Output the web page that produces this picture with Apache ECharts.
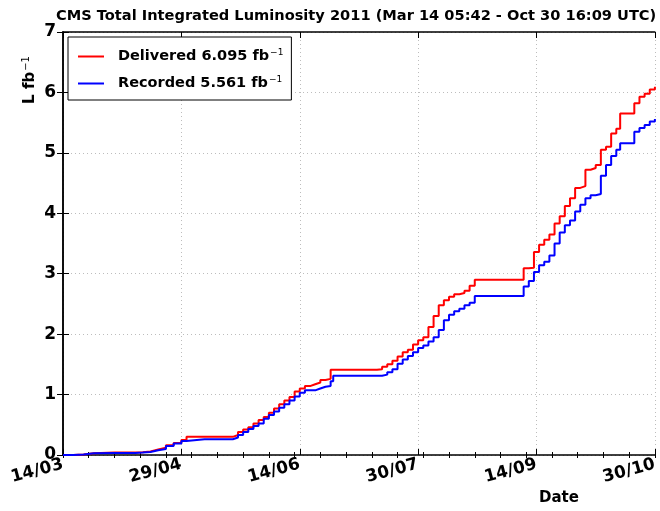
<!DOCTYPE html>
<html>
<head>
<meta charset="utf-8">
<title>CMS Total Integrated Luminosity 2011</title>
<script src="https://cdn.jsdelivr.net/npm/echarts@6/dist/echarts.min.js"></script>
<style>
  html, body { margin: 0; padding: 0; background: #fff; }
  #chart { width: 660px; height: 511px; }
</style>
</head>
<body>
<div id="chart"></div>
<script>
// days since 14/03/2011
const dayOffsets = [0, 4, 8, 12, 20, 28, 31, 34, 37, 40, 43, 46, 48, 55, 64, 66, 68, 70, 72, 74, 76, 78, 80, 82, 84, 86, 88, 90, 92, 94, 96, 98, 100, 102, 104, 105, 114, 122, 124, 126, 128, 130, 132, 134, 136, 138, 140, 142, 144, 146, 148, 150, 152, 154, 156, 158, 160, 170, 177, 179, 181, 183, 185, 187, 189, 191, 193, 195, 197, 199, 201, 203, 205, 207, 209, 211, 213, 215, 216.5, 221, 222, 224, 226, 228, 230]
// integrated luminosity, fb^-1
const deliveredFb = [0, 0.01, 0.03, 0.04, 0.04, 0.045, 0.06, 0.09, 0.12, 0.16, 0.2, 0.25, 0.3, 0.3, 0.3, 0.33, 0.38, 0.42, 0.46, 0.52, 0.58, 0.63, 0.7, 0.77, 0.84, 0.9, 0.96, 1.05, 1.1, 1.14, 1.17, 1.2, 1.24, 1.26, 1.41, 1.41, 1.41, 1.42, 1.46, 1.5, 1.56, 1.63, 1.7, 1.74, 1.83, 1.9, 1.95, 2.12, 2.3, 2.48, 2.56, 2.62, 2.66, 2.68, 2.72, 2.8, 2.9, 2.9, 2.9, 3.09, 3.1, 3.36, 3.48, 3.56, 3.65, 3.83, 3.95, 4.12, 4.25, 4.42, 4.45, 4.72, 4.75, 4.8, 5.05, 5.1, 5.32, 5.4, 5.65, 5.65, 5.82, 5.93, 5.98, 6.05, 6.095]
const recordedFb = [0, 0.01, 0.03, 0.035, 0.035, 0.04, 0.05, 0.08, 0.1, 0.15, 0.19, 0.23, 0.26, 0.26, 0.26, 0.29, 0.33, 0.38, 0.43, 0.48, 0.52, 0.6, 0.66, 0.72, 0.78, 0.84, 0.9, 0.97, 1.03, 1.07, 1.07, 1.1, 1.13, 1.14, 1.22, 1.31, 1.31, 1.31, 1.33, 1.37, 1.42, 1.51, 1.58, 1.64, 1.7, 1.77, 1.81, 1.88, 1.95, 2.07, 2.23, 2.32, 2.38, 2.42, 2.48, 2.52, 2.63, 2.63, 2.63, 2.79, 2.88, 3.03, 3.14, 3.2, 3.3, 3.5, 3.68, 3.8, 3.88, 4.03, 4.14, 4.25, 4.3, 4.32, 4.62, 4.8, 4.95, 5.05, 5.16, 5.16, 5.35, 5.41, 5.46, 5.52, 5.561]

// x tick labels (every 46 days)
const xTickDays = [0, 46, 92, 138, 184, 230]
const xTickLabels = ['14/03', '29/04', '14/06', '30/07', '14/09', '30/10']

const FONT = 'DejaVu Sans'

const chart = echarts.init(document.getElementById('chart'), null, { renderer: 'canvas' })

const deliveredTotal = deliveredFb[deliveredFb.length - 1].toFixed(3)
const recordedTotal = recordedFb[recordedFb.length - 1].toFixed(3)

const dotted = { color: '#bdbdbd', width: 1, type: [1, 3] }

// shared x axis settings (day range)
function xBase(pos) {
  return {
    type: 'value',
    position: pos,
    min: 0,
    max: 230,
    axisLine: { show: true, onZero: false, lineStyle: { color: '#000', width: 1.5 } },
    axisLabel: { show: false },
    splitLine: { show: false }
  }
}

const option = {
  animation: false,
  backgroundColor: '#fff',
  title: {
    text: 'CMS Total Integrated Luminosity 2011 (Mar 14 05:42 - Oct 30 16:09 UTC)',
    left: 56,
    top: 9,
    padding: 0,
    textStyle: { fontFamily: FONT, fontWeight: 'bold', fontSize: 14.6, color: '#000' }
  },
  grid: { left: 63, right: 3, top: 32, bottom: 56, containLabel: false },
  legend: {
    orient: 'vertical',
    left: 68,
    top: 37,
    padding: [11, 8, 9, 10],
    itemGap: 11,
    itemWidth: 26,
    itemHeight: 2,
    icon: 'rect',
    borderColor: '#000',
    borderWidth: 1,
    backgroundColor: '#fff',
    formatter: function (name) {
      const tot = name === 'Delivered' ? deliveredTotal : recordedTotal
      return '{t|' + name + ' ' + tot + ' fb}{s|−1}'
    },
    textStyle: {
      rich: {
        t: { fontFamily: FONT, fontWeight: 'bold', fontSize: 14.5, color: '#000', padding: [0, 0, 0, 9] },
        s: { fontFamily: FONT, fontSize: 9, color: '#000', verticalAlign: 'bottom', padding: [0, 0, 8, 1] }
      }
    }
  },
  xAxis: [
    // bottom major ticks + labels
    Object.assign(xBase('bottom'), {
      interval: 46,
      axisTick: { show: true, inside: true, length: 6, lineStyle: { color: '#000' } },
      axisLabel: {
        show: true,
        rotate: 15,
        margin: 9,
        fontFamily: FONT,
        fontWeight: 'bold',
        fontSize: 17,
        color: '#000',
        formatter: function (v) {
          const i = xTickDays.indexOf(Math.round(v))
          return i >= 0 ? xTickLabels[i] : ''
        }
      },
      splitLine: { show: true, lineStyle: dotted }
    }),
    // bottom minor ticks (every 10 days)
    Object.assign(xBase('bottom'), {
      interval: 10,
      axisLine: { show: false },
      axisTick: { show: true, inside: true, length: 3, lineStyle: { color: '#000' } }
    }),
    // top major
    Object.assign(xBase('top'), {
      interval: 46,
      axisTick: { show: true, inside: true, length: 6, lineStyle: { color: '#000' } }
    }),
    // top minor
    Object.assign(xBase('top'), {
      interval: 10,
      axisLine: { show: false },
      axisTick: { show: true, inside: true, length: 3, lineStyle: { color: '#000' } }
    })
  ],
  yAxis: [
    {
      type: 'value',
      position: 'left',
      min: 0,
      max: 7,
      interval: 1,
      axisLine: { show: true, lineStyle: { color: '#000', width: 1.5 } },
      axisTick: { show: true, inside: true, length: 6, lineStyle: { color: '#000' } },
      axisLabel: { fontFamily: FONT, fontWeight: 'bold', fontSize: 17, color: '#000', margin: 7 },
      splitLine: { show: true, lineStyle: dotted }
    },
    {
      type: 'value',
      position: 'right',
      min: 0,
      max: 7,
      interval: 1,
      axisLine: { show: true, lineStyle: { color: '#000', width: 1.5 } },
      axisTick: { show: true, inside: true, length: 6, lineStyle: { color: '#000' } },
      axisLabel: { show: false },
      splitLine: { show: false }
    }
  ],
  series: [
    {
      name: 'Delivered',
      type: 'line',
      step: 'end',
      showSymbol: false,
      color: '#ff0000',
      lineStyle: { width: 2, color: '#ff0000' },
      data: dayOffsets.map((d, i) => [d, deliveredFb[i]])
    },
    {
      name: 'Recorded',
      type: 'line',
      step: 'end',
      showSymbol: false,
      color: '#0000ff',
      lineStyle: { width: 2, color: '#0000ff' },
      data: dayOffsets.map((d, i) => [d, recordedFb[i]])
    }
  ],
  graphic: [
    // y axis title, rotated
    {
      type: 'text',
      x: 30,
      y: 80,
      rotation: Math.PI / 2,
      style: {
        text: '{a|L fb}{s|−1}',
        align: 'center',
        verticalAlign: 'middle',
        rich: {
          a: { fontFamily: FONT, fontWeight: 'bold', fontSize: 15, fill: '#000' },
          s: { fontFamily: FONT, fontSize: 10, fill: '#000', verticalAlign: 'bottom', padding: [0, 0, 8, 1] }
        }
      }
    },
    {
      type: 'text',
      x: 559,
      y: 498,
      style: {
        text: 'Date',
        align: 'center',
        verticalAlign: 'middle',
        fontFamily: FONT,
        fontWeight: 'bold',
        fontSize: 15,
        fill: '#000'
      }
    }
  ]
}

chart.setOption(option)
window.addEventListener('resize', chart.resize)
</script>
</body>
</html>
